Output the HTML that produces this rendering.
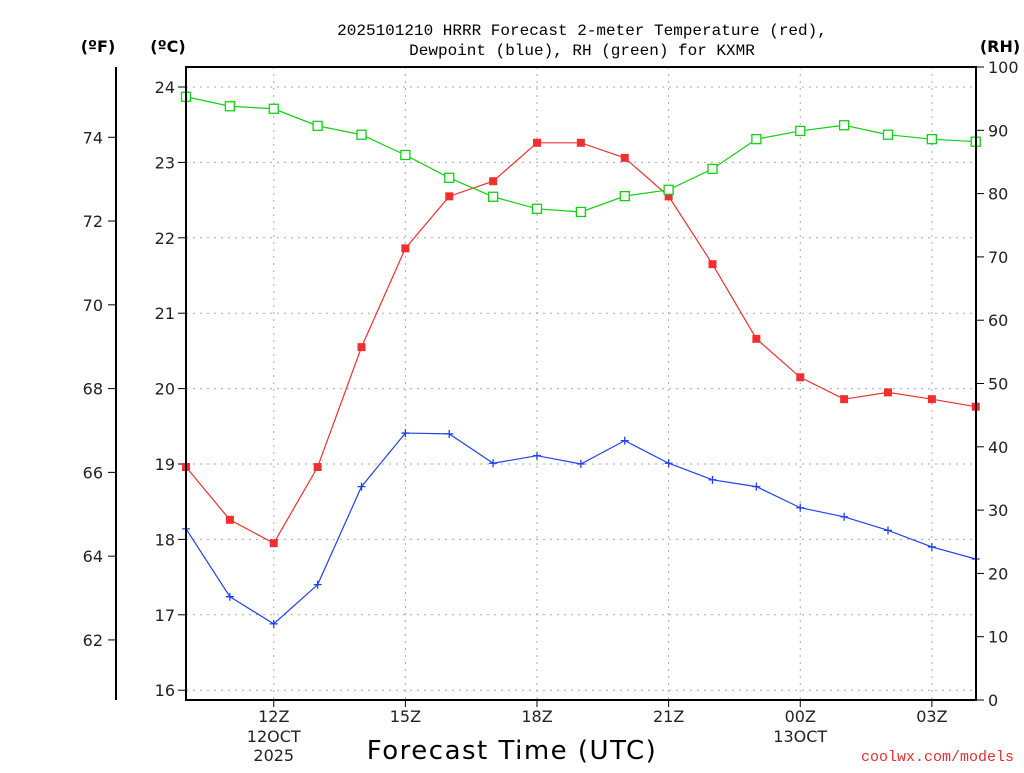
<!DOCTYPE html>
<html><head><meta charset="utf-8"><style>
body{margin:0;background:#fff;width:1024px;height:768px;overflow:hidden}
svg text{font-family:"DejaVu Sans","Liberation Sans",sans-serif}
</style></head><body>
<svg id="chart" width="1024" height="768" xmlns="http://www.w3.org/2000/svg">
<text x="582" y="35" text-anchor="middle" font-size="16" fill="#000" style="font-family:'Liberation Mono',monospace">2025101210 HRRR Forecast 2-meter Temperature (red),</text>
<text x="582" y="55" text-anchor="middle" font-size="16" fill="#000" style="font-family:'Liberation Mono',monospace">Dewpoint (blue), RH (green) for KXMR</text>
<text x="98" y="52" text-anchor="middle" font-size="16" font-weight="bold">(ºF)</text>
<text x="168" y="52" text-anchor="middle" font-size="16" font-weight="bold">(ºC)</text>
<text x="1000" y="52" text-anchor="middle" font-size="16" font-weight="bold">(RH)</text>
<text x="512" y="759" text-anchor="middle" font-size="26" letter-spacing="1.5">Forecast Time (UTC)</text>
<text x="1014" y="761" text-anchor="end" font-size="15" fill="#e03030" style="font-family:'Liberation Mono',monospace">coolwx.com/models</text>
<g id="grid"></g><g id="axes"></g><g id="series"></g>
<rect x="186" y="67" width="790" height="633" fill="none" stroke="#000" stroke-width="2"/>
</svg>
<script>
const hours=[10,11,12,13,14,15,16,17,18,19,20,21,22,23,24,25,26,27,28];
const tempC=[18.96,18.26,17.95,18.96,20.55,21.86,22.55,22.75,23.26,23.26,23.06,22.55,21.65,20.66,20.15,19.86,19.95,19.86,19.76];
const dewC=[18.14,17.24,16.88,17.40,18.70,19.41,19.40,19.01,19.11,19.00,19.31,19.01,18.79,18.70,18.42,18.30,18.12,17.90,17.74];
const rh=[95.3,93.8,93.4,90.7,89.3,86.1,82.5,79.5,77.6,77.1,79.6,80.6,83.9,88.6,89.9,90.8,89.3,88.6,88.2];
const cTicks=[16,17,18,19,20,21,22,23,24];
const fTicks=[62,64,66,68,70,72,74];
const rhTicks=[0,10,20,30,40,50,60,70,80,90,100];
const xTickHours=[12,15,18,21,24,27];
const xTickLabels=["12Z","15Z","18Z","21Z","00Z","03Z"];
const xSubLabels={12:["12OCT","2025"],24:["13OCT"]};
const NS="http://www.w3.org/2000/svg";
const X=h=>186+(h-10)*43.875;
const YC=c=>87+(24-c)*75.4;
const YF=f=>YC((f-32)/1.8);
const YR=r=>700-r*6.33;
function el(tag,attrs,parent,text){const e=document.createElementNS(NS,tag);for(const k in attrs)e.setAttribute(k,attrs[k]);if(text!==undefined)e.textContent=text;document.getElementById(parent).appendChild(e);return e;}
cTicks.forEach(c=>{const y=YC(c);
 const g=el('line',{x1:186,x2:976,y1:y,y2:y,stroke:'#aaa','stroke-dasharray':'2,5'},'grid');
 
 
 el('line',{x1:178,x2:186,y1:y,y2:y,stroke:'#000'},'axes');
 const t=el('text',{x:175,y:y+6,'text-anchor':'end','font-size':16,fill:'#222'},'axes',c);
 
 
});
el('line',{x1:116,x2:116,y1:67,y2:700,stroke:'#000','stroke-width':2},'axes');
fTicks.forEach(f=>{const y=YF(f);
 el('line',{x1:108,x2:116,y1:y,y2:y,stroke:'#000'},'axes');
 const t=el('text',{x:103,y:y+6,'text-anchor':'end','font-size':16,fill:'#222'},'axes',f);
 
 
});
rhTicks.forEach(r=>{const y=YR(r);
 el('line',{x1:976,x2:984,y1:y,y2:y,stroke:'#000'},'axes');
 const t=el('text',{x:988,y:y+6,'font-size':16,fill:'#222'},'axes',r);
 
 
});
xTickHours.forEach((h,i)=>{const x=X(h);
 const g=el('line',{x1:x,x2:x,y1:67,y2:700,stroke:'#aaa','stroke-dasharray':'2,5'},'grid');
 
 
 el('line',{x1:x,x2:x,y1:700,y2:707,stroke:'#000'},'axes');
 const t=el('text',{x:x,y:722,'text-anchor':'middle','font-size':16,fill:'#222'},'axes',xTickLabels[i]);
 
 
 (xSubLabels[h]||[]).forEach((s,j)=>{const u=el('text',{x:x,y:742+j*19,'text-anchor':'middle','font-size':16,fill:'#222'},'axes',s);
  
  });
});
function line(vals,yf,color,name){
 const p=el('polyline',{points:vals.map((v,i)=>X(hours[i])+','+yf(v)).join(' '),fill:'none',stroke:color,'stroke-width':1.2},'series');
 
 
}
line(tempC,YC,'#f03030','temperature');
line(dewC,YC,'#2040f0','dewpoint');
line(rh,YR,'#10d010','rh');
tempC.forEach((v,i)=>{const m=el('rect',{x:X(hours[i])-4,y:YC(v)-4,width:8,height:8,fill:'#f03030'},'series');
 
 });
dewC.forEach((v,i)=>{const x=X(hours[i]),y=YC(v);
 const m=el('path',{d:`M${x-4},${y}H${x+4}M${x},${y-4}V${y+4}`,stroke:'#2040f0','stroke-width':1.3},'series');
 
 });
rh.forEach((v,i)=>{const m=el('rect',{x:X(hours[i])-4.5,y:YR(v)-4.5,width:9,height:9,fill:'#fff',stroke:'#10d010','stroke-width':1.3},'series');
 
 });
</script>
</body></html>
